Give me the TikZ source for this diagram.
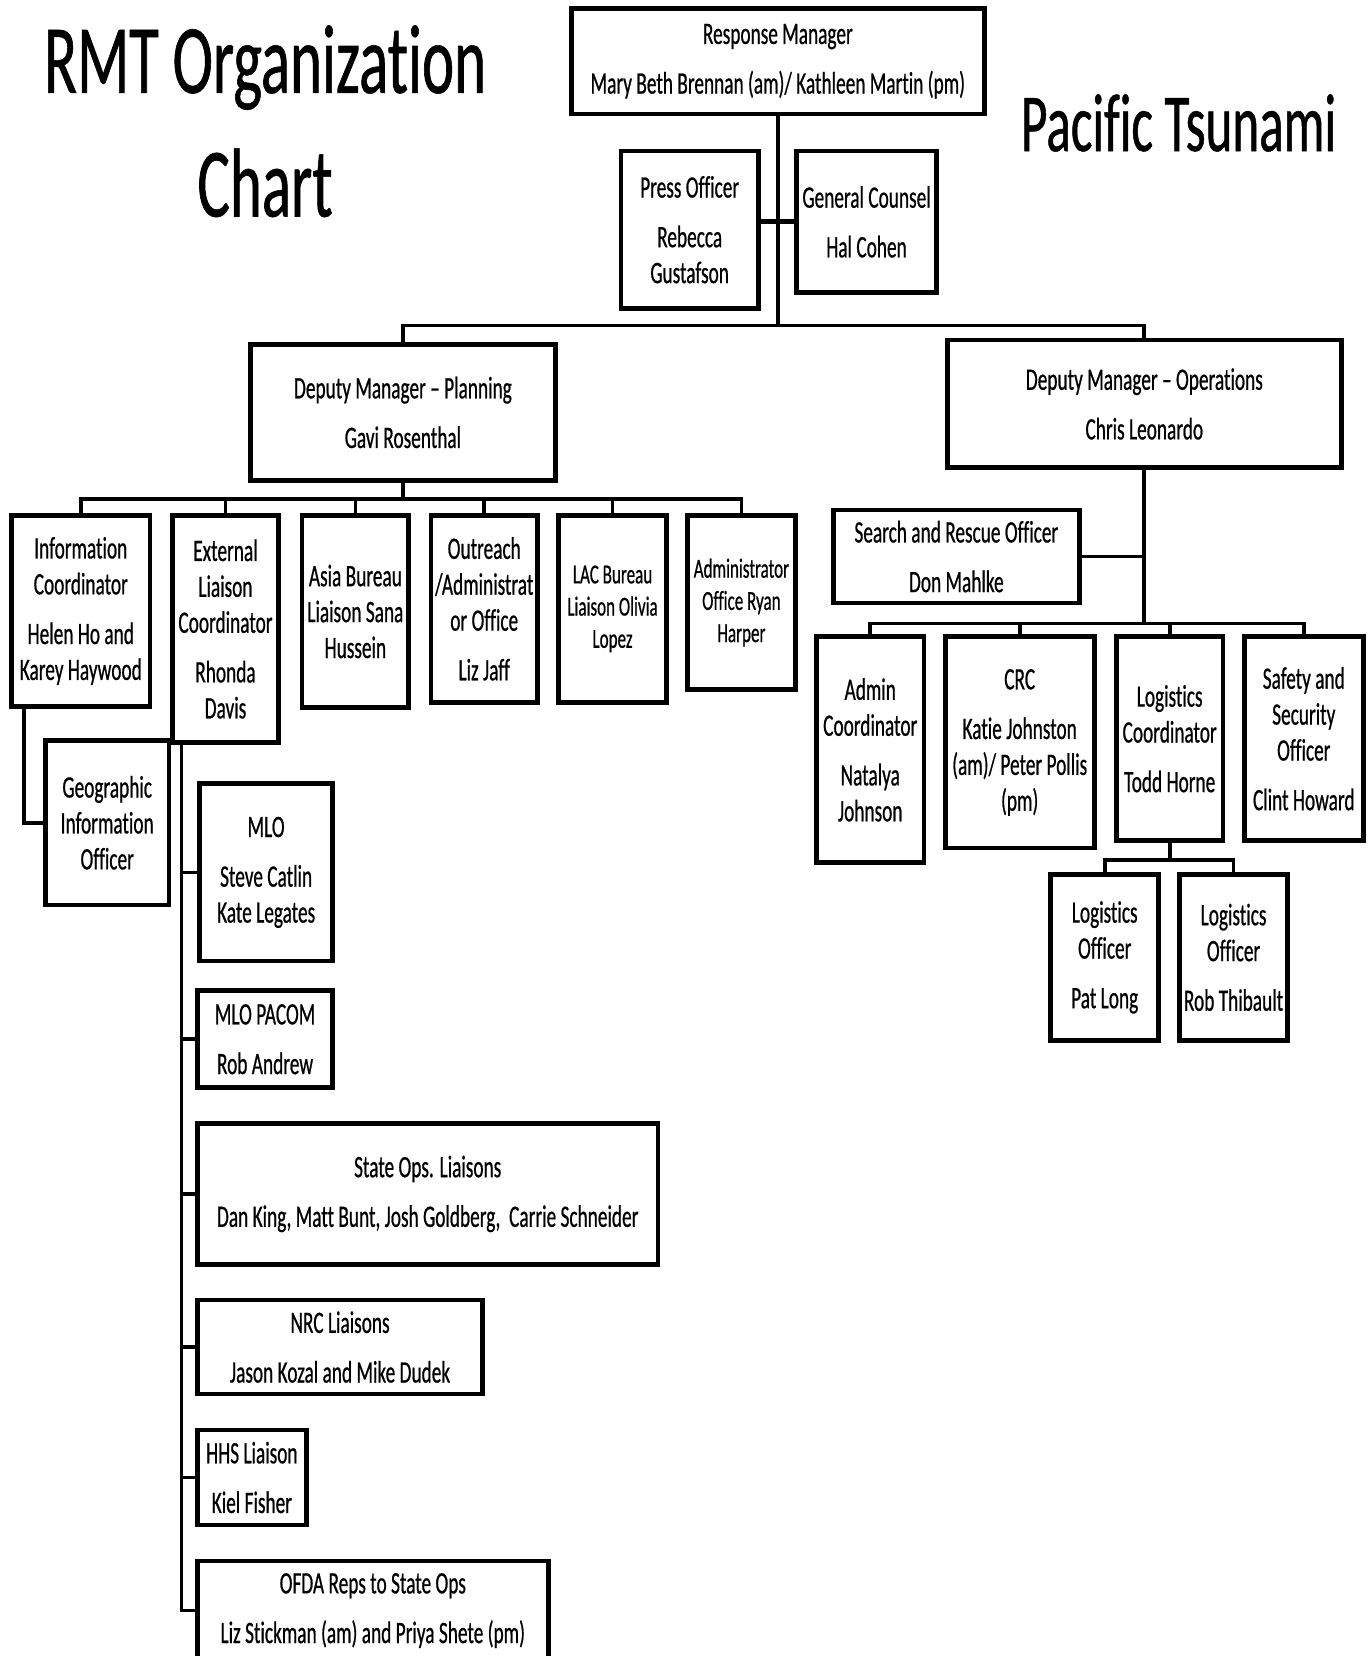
\documentclass[tikz,border=0pt]{standalone}
\usepackage{fontspec}
\setmainfont[FakeStretch=0.62, FakeBold=0.6, Ligatures={TeX,NoCommon}]{Carlito}
\newcommand\orgbox[7][]{\node[box,#1,minimum width={#5-#3},minimum height={#6-#4}] (#2) at ({(#3+#5)/2},{(#4+#6)/2}) {#7};}
\begin{document}
\begin{tikzpicture}[x=1pt,y=-1pt,
  box/.style={draw, line width=4.5pt, inner sep=0pt, align=center, font=\fontsize{29.5}{34}\selectfont},
  small/.style={font=\fontsize{26}{30.5}\selectfont},
  conn/.style={line width=3.5pt},
  title/.style={anchor=base, inner sep=0pt, font=\fontsize{93}{100}\selectfont}]
\useasboundingbox (0,0) rectangle (1296,1568);
\fill[white] (0,0) rectangle (1296,1568);
\clip (0,0) rectangle (1296,1568);

\node[title] (t1) at (251,88) {RMT Organization};
\node[title] (t2) at (251,205) {Chart};
\node[title, font=\fontsize{78}{84}\selectfont] (t3) at (1116,143) {Pacific Tsunami};

\orgbox{rm}{541}{8}{932}{108}{Response Manager\\[13pt]Mary Beth Brennan (am)/ Kathleen Martin (pm)}
\orgbox{po}{588}{143}{718}{292}{Press Officer\\[13pt]Rebecca\\Gustafson}
\orgbox{gc}{754}{143}{887}{277}{General Counsel\\[13pt]Hal Cohen}
\orgbox{dmp}{237}{326}{526}{455}{Deputy Manager – Planning\\[13pt]Gavi Rosenthal}
\orgbox{dmo}{897}{322}{1270}{443}{Deputy Manager – Operations\\[13pt]Chris Leonardo}
\orgbox{info}{11}{488}{142}{669}{Information\\Coordinator\\[13pt]Helen Ho and\\Karey Haywood}
\orgbox{ext}{163}{488}{264}{703}{External\\Liaison\\Coordinator\\[13pt]Rhonda\\Davis}
\orgbox{asia}{286}{488}{387}{670}{Asia Bureau\\Liaison Sana\\Hussein}
\orgbox{outr}{408}{488}{509}{665}{Outreach\\/Administrat\\or Office\\[13pt]Liz Jaff}
\orgbox[small]{lac}{529}{488}{631}{665}{LAC Bureau\\Liaison Olivia\\Lopez}
\orgbox[small]{adm}{651}{488}{753}{653}{Administrator\\Office Ryan\\Harper}
\orgbox{sar}{789}{483}{1022}{571}{Search and Rescue Officer\\[13pt]Don Mahlke}
\orgbox{admc}{773}{603}{875}{817}{Admin\\Coordinator\\[13pt]Natalya\\Johnson}
\orgbox{crc}{895}{603}{1036}{803}{CRC\\[13pt]Katie Johnston\\(am)/ Peter Pollis\\(pm)}
\orgbox{logc}{1057}{603}{1158}{796}{Logistics\\Coordinator\\[13pt]Todd Horne}
\orgbox{safe}{1178}{603}{1291}{796}{Safety and\\Security\\Officer\\[13pt]Clint Howard}
\orgbox{lo1}{995}{828}{1097}{985}{Logistics\\Officer\\[13pt]Pat Long}
\orgbox{lo2}{1117}{828}{1219}{985}{Logistics\\Officer\\[13pt]Rob Thibault}
\orgbox{geo}{43}{701}{160}{857}{Geographic\\Information\\Officer}
\orgbox{mlo}{189}{742}{315}{910}{MLO\\[13pt]Steve Catlin\\Kate Legates}
\orgbox{pacom}{187}{938}{315}{1030}{MLO PACOM\\[13pt]Rob Andrew}
\orgbox{state}{187}{1064}{623}{1197}{State Ops. Liaisons\\[13pt]Dan King, Matt Bunt, Josh Goldberg,~ Carrie Schneider}
\orgbox{nrc}{187}{1231}{457}{1320}{NRC Liaisons\\[13pt]Jason Kozal and Mike Dudek}
\orgbox{hhs}{187}{1354}{290}{1444}{HHS Liaison\\[13pt]Kiel Fisher}
\orgbox{ofda}{187}{1478}{519}{1572}{OFDA Reps to State Ops\\[13pt]Liz Stickman (am) and Priya Shete (pm)}

% top level
\draw[conn] (rm.south) -- ++(0,198) coordinate (hub);
\draw[conn] (dmp.north) |- (hub) -| (dmo.north);
\draw[conn, line width=5pt] (po.east |- gc.west) -- (gc.west);
% planning branch
\draw[conn] (dmp.south) -- ++(0,15) coordinate (pb);
\draw[conn] (info.north) |- (pb) -| (adm.north);
\foreach \n in {ext,asia,outr,lac} \draw[conn] (\n.north) -- (\n.north |- pb);
% operations branch
\draw[conn] (dmo.south) -- ++(0,145) coordinate (ob);
\draw[conn] (sar.east) -- (sar.east -| dmo.south);
\draw[conn] (admc.north) |- (ob) -| (safe.north);
\foreach \n in {crc,logc} \draw[conn] (\n.north) -- (\n.north |- ob);
% logistics
\draw[conn] (logc.south) -- ++(0,16) coordinate (lb);
\draw[conn] (lo1.north) |- (lb) -| (lo2.north);
% info -> geographic
\draw[conn] ([xshift=14pt]info.south west) |- (geo.west);
% external liaison trunk
\coordinate (et) at ([xshift=11pt]ext.south west);
\draw[conn] (et) |- (ofda.west);
\foreach \n in {mlo,pacom,state,nrc,hhs} \draw[conn] (et |- \n.west) -- (\n.west);
\end{tikzpicture}
\end{document}
